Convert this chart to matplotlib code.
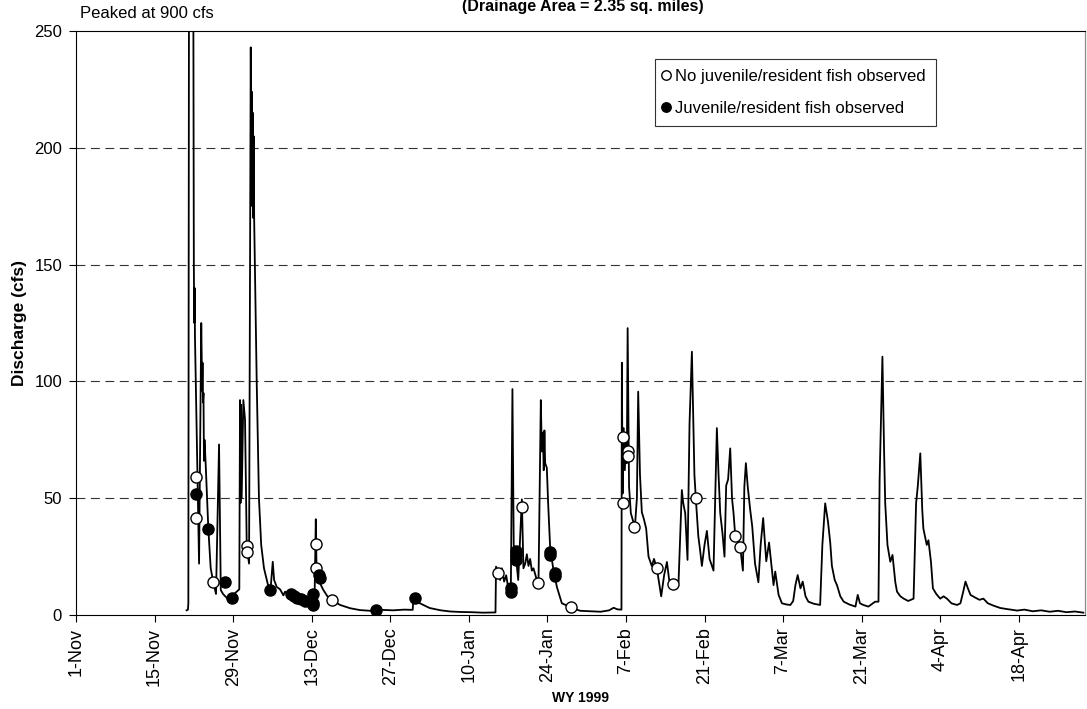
import matplotlib
matplotlib.use("Agg")
import matplotlib.pyplot as plt

plt.rcParams['font.family'] = ['Liberation Sans', 'DejaVu Sans']

# discharge hydrograph, x = days since 1-Nov-1998, y = cfs
flow_day = [19.70, 19.95, 20.02, 20.40, 21.00, 21.08, 21.14, 21.20, 21.93, 22.32,
            22.42, 22.48, 22.55, 22.62, 22.72, 22.80, 22.90, 23.10, 23.58, 24.0,
            24.47, 24.95, 25.49, 25.80, 26.2, 26.8, 27.3, 27.7, 28.4, 29.1,
            29.23, 29.32, 29.42, 29.52, 29.82, 30.12, 30.43, 30.84, 31.14, 31.25,
            31.33, 31.42, 31.50, 31.58, 31.66, 31.75, 32.2, 32.6, 33.0, 33.5,
            34.2, 34.7, 35.06, 35.3, 35.77, 36.36, 36.96, 37.25, 37.55, 38.2,
            38.9, 39.6, 40.3, 41.0, 41.7, 42.5, 42.73, 42.85, 43.1, 43.6,
            44.08, 44.8, 45.58, 47.06, 48.84, 50.6, 52.5, 54.5, 56.5, 58.5,
            60.0, 60.12, 61.3, 63.0, 65.0, 66.7, 68.5, 70.5, 72.5, 74.75,
            74.85, 75.28, 75.58, 75.88, 76.29, 76.65, 77.0, 77.49, 77.77, 78.0,
            78.43, 78.8, 79.45, 79.73, 80.05, 80.34, 80.63, 80.93, 81.23, 81.52,
            82.12, 82.41, 82.83, 83.0, 83.19, 83.35, 83.47, 83.6, 83.9, 84.13,
            84.49, 85.03, 85.69, 86.58, 88.18, 89.84, 91.5, 93.5, 95.0, 95.8,
            96.5, 97.2, 97.27, 97.4, 97.6, 97.8, 98.0, 98.15, 98.3, 98.55,
            98.87, 99.3, 99.6, 99.95, 100.18, 100.5, 100.83, 101.2, 101.6, 102.02,
            102.6, 103.0, 103.5, 104.28, 104.8, 105.3, 105.7, 106.18, 106.8, 107.37,
            107.96, 108.2, 108.56, 108.97, 109.33, 109.75, 110.2, 110.5, 110.9, 111.2,
            111.53, 112.0, 112.42, 112.9, 113.6, 114.2, 114.5, 114.8, 115.2, 115.56,
            115.86, 116.2, 116.58, 116.9, 117.17, 117.47, 117.9, 118.36, 118.84, 119.1,
            119.37, 119.7, 120.14, 120.5, 121.0, 121.6, 122.0, 122.45, 123.0, 123.5,
            124.3, 124.6, 125.2, 125.8, 126.6, 127.3, 127.8, 128.2, 128.6, 129.1,
            129.5, 130.0, 130.5, 131.5, 132.6, 133.0, 133.5, 134.0, 134.4, 134.7,
            135.2, 135.6, 136.2, 136.8, 137.8, 138.9, 139.3, 139.7, 140.3, 141.2,
            142.4, 143.0, 143.2, 143.7, 144.0, 144.2, 144.6, 145.1, 145.5, 146.0,
            146.3, 146.9, 147.5, 148.3, 149.25, 149.7, 150.0, 150.45, 150.8, 151.0,
            151.6, 151.9, 152.35, 152.7, 153.3, 154.0, 154.6, 155.2, 156.0, 157.0,
            157.6, 158.1, 158.5, 159.0, 159.4, 160.2, 161.0, 161.7, 162.5, 163.5,
            164.7, 166.0, 167.7, 169.0, 170.5, 172.0, 173.5, 175.0, 176.5, 178.0,
            179.5]
flow_cfs = [2.0, 2.3, 5.0, 900, 149, 125, 140, 119, 22, 125,
            105, 96, 108, 91, 95, 66, 75, 65, 37, 20,
            14, 9, 73, 10.7, 9, 7.5, 6.5, 8, 9.5, 11,
            92, 48, 90, 50, 92, 83.6, 28.7, 22, 243, 180,
            224, 175, 215, 170, 205, 169, 100, 50, 30, 20,
            13, 12, 22.8, 15, 12, 11, 8.4, 10, 9.3, 9.5,
            8, 7.5, 7, 6.5, 5.5, 5, 41, 22, 17, 13,
            10.7, 8, 6.4, 4.3, 2.9, 2.1, 1.8, 2.2, 2.0, 2.3,
            2.2, 7.3, 5, 3, 2, 1.5, 1.3, 1.2, 1.0, 1.1,
            20.7, 18, 15, 20, 14.3, 17, 12, 11, 96.7, 30,
            24, 15, 49.5, 20, 22, 26, 21, 24, 19, 20,
            15, 13, 92, 70, 78, 62, 79, 65, 63, 48,
            29, 20, 12, 5, 3.3, 1.8, 1.6, 1.4, 2.0, 3.1,
            2.4, 2.3, 108, 52, 80, 62, 75, 65, 122.8, 55,
            43.6, 40, 38, 50, 95.6, 60, 44, 41, 37, 25,
            21, 24, 20, 8, 17, 22.7, 15, 13, 12, 14,
            53.5, 48, 43.6, 23.6, 82, 112.7, 60, 48, 33.6, 28,
            21, 30, 36, 24, 19, 80, 60, 43.6, 35, 25,
            55.4, 58, 71.3, 50, 43.6, 34, 33, 29, 19, 55,
            65, 55, 45, 38, 22, 14, 30, 41.5, 23, 31,
            12.8, 18.6, 8.6, 5, 4.5, 4.3, 6, 12.8, 17.1, 11.4,
            14.3, 8, 5.7, 4.8, 4.3, 30, 47.8, 40, 31, 21,
            15, 12.8, 8, 5.7, 4.5, 3.6, 8.6, 5, 4.3, 3.6,
            5.7, 5.7, 57.8, 110.6, 70, 47.8, 30, 22.8, 25.7, 14,
            10, 8, 7, 6, 7, 47.8, 55, 69.2, 45, 37,
            30, 32, 22.8, 11.4, 9, 7, 8, 7, 5, 4.3,
            5, 10, 14.3, 11, 8.6, 7.5, 6.5, 7, 5, 4,
            3, 2.5, 1.9, 2.3, 1.6, 2.0, 1.4, 1.8, 1.2, 1.5,
            1.0]

# sampling visits with no juvenile/resident fish
open_day = [21.39, 21.39, 24.47, 30.43, 30.43, 42.73, 42.73, 45.58, 75.28, 79.45,
            82.41, 88.18, 97.45, 97.56, 98.45, 98.45, 99.52, 103.5, 106.4, 110.46,
            117.47, 118.36]
open_cfs = [59, 41.5, 14, 29.5, 27, 30.5, 20, 6.4, 18, 46.4,
            13.8, 3.3, 48, 76, 70, 68, 37.6, 20, 13.3, 50,
            34, 29]

# sampling visits with juvenile/resident fish
fill_day = [21.39, 23.58, 26.56, 27.75, 34.58, 38.3, 38.8, 39.4, 40.1, 40.8,
            41.5, 42.2, 42.3, 42.3, 43.37, 43.4, 53.42, 60.43, 77.49, 77.49,
            78.43, 78.43, 78.43, 84.49, 84.49, 85.3, 85.3]
fill_cfs = [52, 37, 14, 7.4, 10.7, 9.0, 8.0, 7.3, 6.8, 6.2,
            5.8, 5.0, 9.2, 4.3, 17, 16, 2.1, 7.4, 11.5, 10,
            27.5, 25.5, 23.5, 27, 25.5, 18, 16.5]

tick_days = [0, 14, 28, 42, 56, 70, 84, 98, 112, 126, 140, 154, 168]
tick_labels = ['1-Nov', '15-Nov', '29-Nov', '13-Dec', '27-Dec', '10-Jan', '24-Jan',
               '7-Feb', '21-Feb', '7-Mar', '21-Mar', '4-Apr', '18-Apr']

fig = plt.figure(figsize=(10.87, 7.09), dpi=100)
ax = fig.add_axes([76/1087, 94/709, 1009/1087, 584/709])

ax.plot(flow_day, flow_cfs, color='black', lw=1.3, zorder=3)
ax.plot(open_day, open_cfs, 'o', ms=8, mfc='white', mec='black', mew=1.0,
        ls='none', zorder=4, label='No juvenile/resident fish observed')
ax.plot(fill_day, fill_cfs, 'o', ms=8, mfc='black', mec='black',
        ls='none', zorder=5, label='Juvenile/resident fish observed')

ax.set_xlim(0, 179.8)
ax.set_ylim(0, 250)
ax.set_yticks([0, 50, 100, 150, 200, 250])
ax.set_xticks(tick_days)
ax.set_xticklabels(tick_labels, rotation=90)
ax.tick_params(direction='out', length=5, color='black')
ax.tick_params(axis='y', labelsize=12, pad=5)
ax.tick_params(axis='x', labelsize=13, pad=4)
for y in [50, 100, 150, 200]:
    ax.axhline(y, color='#333333', lw=0.8, ls=(0, (8, 5)), zorder=1)
ax.spines['right'].set_color('#888888')
ax.spines['right'].set_linewidth(0.9)

ax.set_ylabel('Discharge (cfs)', fontsize=12.5, fontweight='bold', labelpad=5)
ax.set_xlabel('WY 1999', fontsize=10, fontweight='bold', labelpad=4)

leg = ax.legend(loc='upper left', bbox_to_anchor=(0.574, 0.952), fontsize=12,
                frameon=True, fancybox=False, framealpha=1, edgecolor='#333333',
                handlelength=0.1, handletextpad=0.5, labelspacing=1.0,
                borderpad=0.6, borderaxespad=0, markerscale=0.85)
leg.get_frame().set_linewidth(0.8)

fig.text(80/1087, 1 - 14/709, 'Peaked at 900 cfs', fontsize=12, va='center', ha='left')
fig.text(583/1087, 1 - 7/709, '(Drainage Area = 2.35 sq. miles)', fontsize=11.5,
         fontweight='bold', va='center', ha='center')

fig.savefig('out.png', dpi=100)
